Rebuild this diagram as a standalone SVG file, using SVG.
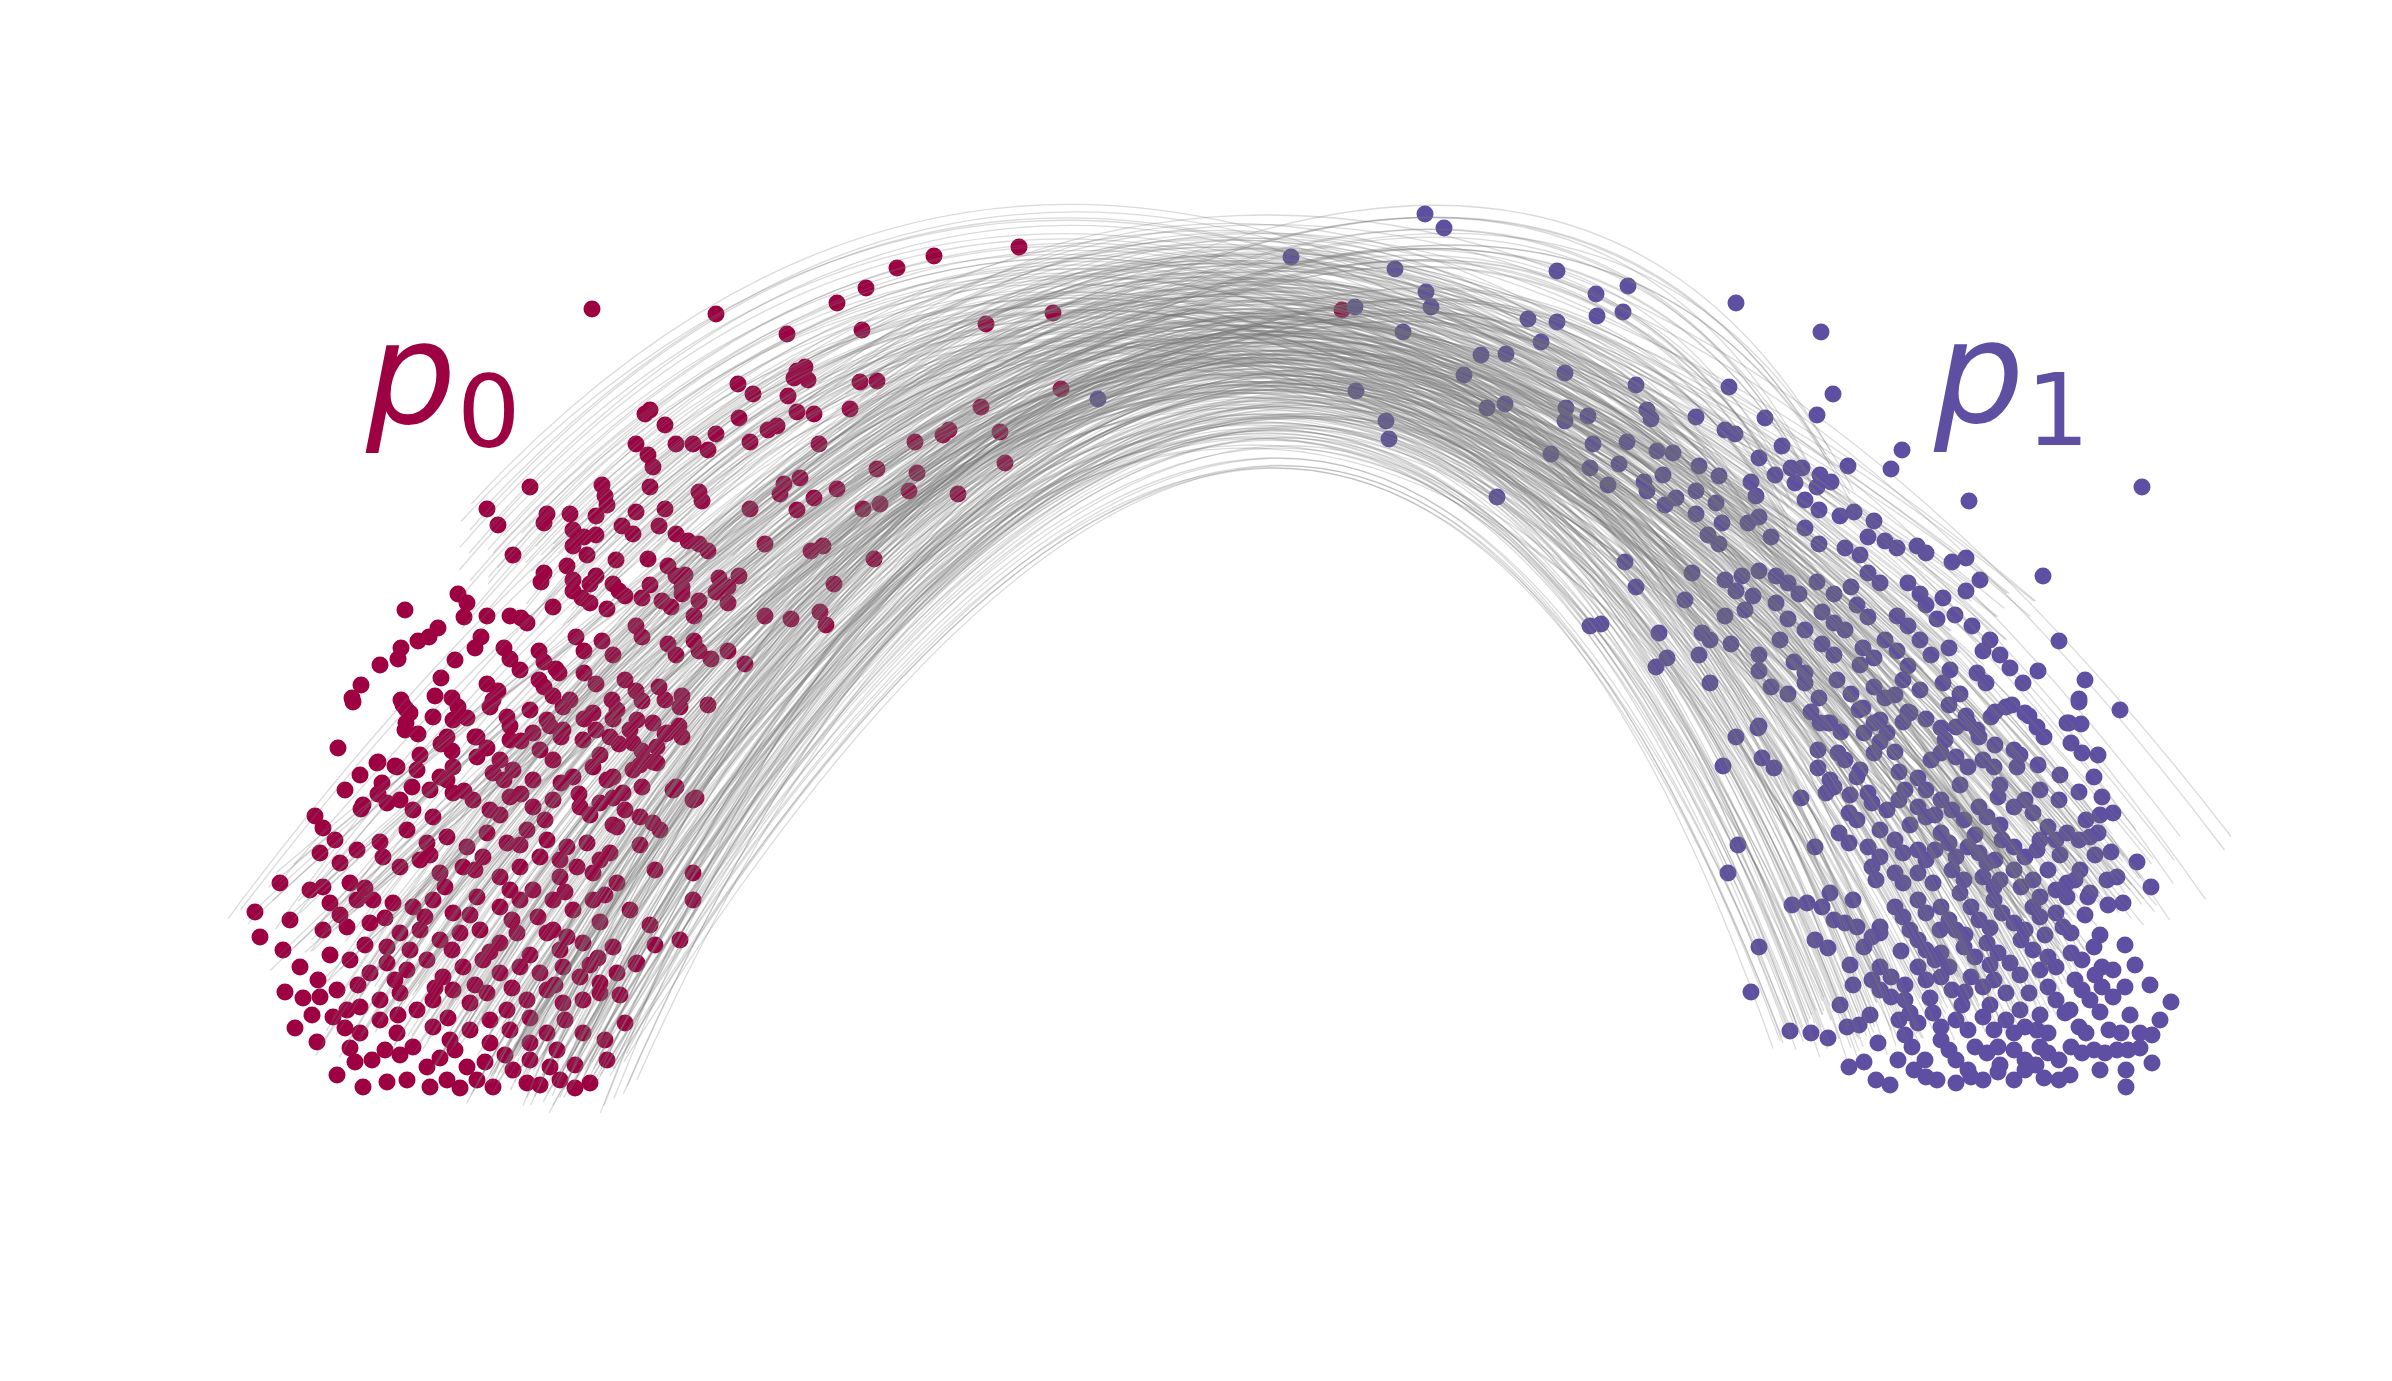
<svg xmlns="http://www.w3.org/2000/svg" xmlns:xlink="http://www.w3.org/1999/xlink" width="2392" height="1381" viewBox="0 0 2392 1381">
<style>
.r circle{fill:#9e0142}
.b circle{fill:#5e4fa2}
circle{r:8.5px}
.L{fill:none;stroke:#777;stroke-opacity:.27;stroke-width:1.3}
text{font-family:"DejaVu Sans","Liberation Sans",sans-serif}
</style>
<defs>
<path id="A" vector-effect="non-scaling-stroke" d="M-970 -240Q30 -1580 975 -300"/>
<path id="B" vector-effect="non-scaling-stroke" d="M-630 -75Q107 -1289 560 -115"/>
<path id="D" vector-effect="non-scaling-stroke" d="M-800 -130Q60 -1460 760 -150"/>
<path id="E" vector-effect="non-scaling-stroke" d="M-700 -80Q-40 -1470 880 -270"/>
<path id="F" vector-effect="non-scaling-stroke" d="M-760 -620Q-88 -1390 900 -260"/>
<path id="G" vector-effect="non-scaling-stroke" d="M-975 -240Q218 -1360 600 -700"/>
<path id="H" vector-effect="non-scaling-stroke" d="M-560 -560Q-30 -1110 700 -500"/>
<path id="K" vector-effect="non-scaling-stroke" d="M-380 -700Q0 -1010 420 -680"/>
</defs>
<rect width="2392" height="1381" fill="#fff"/>
<g id="p0-dots" class="r">
<circle cx="592" cy="309"/><circle cx="716" cy="314"/><circle cx="866" cy="288"/><circle cx="837" cy="303"/><circle cx="862" cy="330"/><circle cx="787" cy="334"/><circle cx="986" cy="324"/><circle cx="1019" cy="247"/><circle cx="897" cy="268"/><circle cx="934" cy="256"/><circle cx="1053" cy="313"/><circle cx="797" cy="371"/><circle cx="805" cy="367"/><circle cx="794" cy="378"/><circle cx="808" cy="380"/><circle cx="738" cy="384"/><circle cx="753" cy="394"/><circle cx="860" cy="382"/><circle cx="877" cy="381"/><circle cx="788" cy="396"/><circle cx="850" cy="409"/><circle cx="650" cy="410"/><circle cx="645" cy="414"/><circle cx="665" cy="425"/><circle cx="797" cy="412"/><circle cx="814" cy="414"/><circle cx="739" cy="418"/><circle cx="777" cy="426"/><circle cx="768" cy="430"/><circle cx="1061" cy="389"/><circle cx="981" cy="407"/><circle cx="1342" cy="310"/><circle cx="1000" cy="432"/><circle cx="1005" cy="463"/>
<circle cx="716" cy="434"/><circle cx="693" cy="444"/><circle cx="676" cy="444"/><circle cx="708" cy="450"/><circle cx="949" cy="430"/><circle cx="943" cy="435"/><circle cx="915" cy="442"/><circle cx="636" cy="444"/><circle cx="648" cy="455"/><circle cx="653" cy="467"/><circle cx="819" cy="444"/><circle cx="750" cy="442"/><circle cx="877" cy="469"/><circle cx="917" cy="473"/><circle cx="530" cy="487"/><circle cx="602" cy="485"/><circle cx="605" cy="496"/><circle cx="607" cy="505"/><circle cx="650" cy="487"/><circle cx="699" cy="492"/><circle cx="702" cy="501"/><circle cx="784" cy="484"/><circle cx="800" cy="478"/><circle cx="780" cy="494"/><circle cx="814" cy="498"/><circle cx="837" cy="489"/><circle cx="909" cy="491"/><circle cx="958" cy="494"/><circle cx="863" cy="509"/><circle cx="880" cy="504"/><circle cx="750" cy="509"/><circle cx="797" cy="510"/><circle cx="487" cy="509"/><circle cx="498" cy="525"/><circle cx="547" cy="514"/><circle cx="544" cy="523"/><circle cx="570" cy="514"/><circle cx="596" cy="516"/><circle cx="636" cy="512"/><circle cx="665" cy="509"/><circle cx="573" cy="530"/><circle cx="584" cy="537"/><circle cx="596" cy="535"/><circle cx="622" cy="526"/><circle cx="633" cy="534"/><circle cx="659" cy="526"/><circle cx="676" cy="534"/><circle cx="688" cy="541"/><circle cx="699" cy="544"/><circle cx="708" cy="551"/><circle cx="513" cy="555"/><circle cx="573" cy="546"/><circle cx="587" cy="555"/><circle cx="616" cy="560"/><circle cx="648" cy="559"/><circle cx="668" cy="566"/><circle cx="676" cy="576"/><circle cx="765" cy="544"/><circle cx="811" cy="551"/><circle cx="823" cy="546"/><circle cx="874" cy="559"/><circle cx="544" cy="573"/><circle cx="541" cy="582"/><circle cx="567" cy="566"/><circle cx="573" cy="580"/><circle cx="590" cy="584"/><circle cx="596" cy="576"/><circle cx="613" cy="584"/><circle cx="650" cy="585"/><circle cx="685" cy="575"/><circle cx="682" cy="587"/><circle cx="719" cy="578"/><circle cx="728" cy="587"/><circle cx="739" cy="576"/><circle cx="834" cy="584"/>
<circle cx="458" cy="594"/><circle cx="467" cy="603"/><circle cx="405" cy="610"/><circle cx="487" cy="616"/><circle cx="510" cy="616"/><circle cx="521" cy="618"/><circle cx="527" cy="623"/><circle cx="553" cy="607"/><circle cx="573" cy="591"/><circle cx="464" cy="617"/><circle cx="582" cy="598"/><circle cx="590" cy="603"/><circle cx="607" cy="609"/><circle cx="619" cy="591"/><circle cx="625" cy="596"/><circle cx="642" cy="598"/><circle cx="662" cy="601"/><circle cx="671" cy="607"/><circle cx="682" cy="594"/><circle cx="699" cy="601"/><circle cx="694" cy="616"/><circle cx="716" cy="592"/><circle cx="728" cy="603"/><circle cx="765" cy="616"/><circle cx="791" cy="619"/><circle cx="820" cy="612"/><circle cx="826" cy="625"/>
<circle cx="438" cy="628"/><circle cx="429" cy="637"/><circle cx="418" cy="641"/><circle cx="401" cy="648"/><circle cx="398" cy="659"/><circle cx="481" cy="637"/><circle cx="475" cy="648"/><circle cx="504" cy="648"/><circle cx="510" cy="659"/><circle cx="539" cy="651"/><circle cx="544" cy="662"/><circle cx="556" cy="669"/><circle cx="559" cy="673"/><circle cx="576" cy="637"/><circle cx="584" cy="651"/><circle cx="602" cy="641"/><circle cx="613" cy="655"/><circle cx="636" cy="626"/><circle cx="642" cy="637"/><circle cx="668" cy="644"/><circle cx="676" cy="655"/><circle cx="694" cy="641"/><circle cx="699" cy="651"/><circle cx="711" cy="659"/><circle cx="728" cy="651"/><circle cx="745" cy="664"/><circle cx="441" cy="678"/><circle cx="361" cy="685"/><circle cx="352" cy="698"/><circle cx="401" cy="700"/><circle cx="406" cy="709"/><circle cx="452" cy="698"/><circle cx="458" cy="707"/><circle cx="435" cy="696"/><circle cx="487" cy="684"/><circle cx="498" cy="691"/><circle cx="493" cy="700"/><circle cx="539" cy="680"/><circle cx="544" cy="687"/><circle cx="553" cy="696"/><circle cx="584" cy="673"/><circle cx="596" cy="684"/><circle cx="625" cy="680"/><circle cx="636" cy="691"/><circle cx="642" cy="701"/><circle cx="659" cy="687"/><circle cx="665" cy="700"/><circle cx="682" cy="696"/><circle cx="708" cy="705"/><circle cx="380" cy="665"/><circle cx="455" cy="660"/><circle cx="520" cy="670"/><circle cx="570" cy="700"/><circle cx="612" cy="700"/>
<circle cx="338" cy="748"/><circle cx="378" cy="762"/><circle cx="395" cy="766"/><circle cx="441" cy="744"/><circle cx="452" cy="751"/><circle cx="406" cy="723"/><circle cx="418" cy="734"/><circle cx="475" cy="737"/><circle cx="487" cy="748"/><circle cx="510" cy="726"/><circle cx="521" cy="741"/><circle cx="550" cy="726"/><circle cx="561" cy="737"/><circle cx="584" cy="719"/><circle cx="596" cy="730"/><circle cx="613" cy="719"/><circle cx="630" cy="730"/><circle cx="653" cy="723"/><circle cx="665" cy="734"/><circle cx="679" cy="726"/><circle cx="682" cy="737"/><circle cx="619" cy="744"/><circle cx="642" cy="751"/><circle cx="653" cy="762"/><circle cx="676" cy="787"/><circle cx="696" cy="798"/><circle cx="315" cy="816"/><circle cx="323" cy="828"/><circle cx="361" cy="809"/><circle cx="378" cy="794"/><circle cx="412" cy="787"/><circle cx="447" cy="780"/><circle cx="464" cy="791"/><circle cx="504" cy="780"/><circle cx="521" cy="794"/><circle cx="561" cy="783"/><circle cx="579" cy="794"/><circle cx="607" cy="780"/><circle cx="613" cy="798"/><circle cx="642" cy="787"/><circle cx="653" cy="823"/><circle cx="613" cy="825"/>
<circle cx="353" cy="702"/><circle cx="403" cy="705"/><circle cx="410" cy="713"/><circle cx="433" cy="717"/><circle cx="453" cy="720"/><circle cx="467" cy="718"/><circle cx="490" cy="707"/><circle cx="507" cy="717"/><circle cx="530" cy="710"/><circle cx="547" cy="720"/><circle cx="563" cy="707"/><circle cx="593" cy="713"/><circle cx="617" cy="710"/><circle cx="637" cy="720"/><circle cx="680" cy="707"/>
<circle cx="405" cy="730"/><circle cx="447" cy="737"/><circle cx="477" cy="737"/><circle cx="510" cy="740"/><circle cx="533" cy="733"/><circle cx="563" cy="730"/><circle cx="583" cy="740"/><circle cx="610" cy="737"/><circle cx="633" cy="743"/><circle cx="667" cy="733"/><circle cx="657" cy="747"/>
<circle cx="377" cy="763"/><circle cx="397" cy="767"/><circle cx="417" cy="770"/><circle cx="440" cy="777"/><circle cx="453" cy="767"/><circle cx="477" cy="757"/><circle cx="493" cy="773"/><circle cx="513" cy="770"/><circle cx="533" cy="780"/><circle cx="553" cy="760"/><circle cx="573" cy="777"/><circle cx="593" cy="767"/><circle cx="613" cy="777"/><circle cx="633" cy="770"/><circle cx="657" cy="763"/><circle cx="673" cy="790"/><circle cx="382" cy="783"/><circle cx="360" cy="775"/><circle cx="420" cy="755"/><circle cx="500" cy="760"/><circle cx="540" cy="750"/><circle cx="600" cy="755"/><circle cx="640" cy="765"/>
<circle cx="363" cy="805"/><circle cx="387" cy="803"/><circle cx="413" cy="810"/><circle cx="433" cy="817"/><circle cx="453" cy="793"/><circle cx="473" cy="800"/><circle cx="490" cy="810"/><circle cx="510" cy="797"/><circle cx="533" cy="807"/><circle cx="553" cy="800"/><circle cx="580" cy="807"/><circle cx="600" cy="803"/><circle cx="623" cy="793"/><circle cx="640" cy="817"/><circle cx="660" cy="830"/><circle cx="693" cy="800"/><circle cx="345" cy="790"/><circle cx="400" cy="800"/><circle cx="430" cy="790"/><circle cx="500" cy="815"/><circle cx="545" cy="820"/><circle cx="590" cy="815"/><circle cx="625" cy="810"/>
<circle cx="407" cy="830"/><circle cx="427" cy="843"/><circle cx="447" cy="837"/><circle cx="467" cy="847"/><circle cx="487" cy="833"/><circle cx="507" cy="843"/><circle cx="527" cy="830"/><circle cx="547" cy="840"/><circle cx="567" cy="847"/><circle cx="587" cy="843"/><circle cx="617" cy="827"/><circle cx="610" cy="853"/><circle cx="357" cy="850"/><circle cx="320" cy="853"/><circle cx="335" cy="840"/><circle cx="380" cy="842"/><circle cx="430" cy="855"/><circle cx="475" cy="870"/><circle cx="520" cy="845"/><circle cx="560" cy="860"/><circle cx="600" cy="860"/><circle cx="640" cy="845"/><circle cx="655" cy="870"/>
<circle cx="340" cy="863"/><circle cx="383" cy="857"/><circle cx="400" cy="867"/><circle cx="420" cy="860"/><circle cx="440" cy="873"/><circle cx="463" cy="867"/><circle cx="483" cy="857"/><circle cx="500" cy="877"/><circle cx="520" cy="867"/><circle cx="540" cy="857"/><circle cx="560" cy="877"/><circle cx="577" cy="867"/><circle cx="593" cy="873"/><circle cx="617" cy="883"/><circle cx="693" cy="873"/><circle cx="280" cy="883"/><circle cx="323" cy="887"/><circle cx="350" cy="883"/><circle cx="310" cy="890"/><circle cx="365" cy="888"/><circle cx="445" cy="887"/><circle cx="510" cy="890"/><circle cx="565" cy="892"/><circle cx="605" cy="895"/>
<circle cx="330" cy="903"/><circle cx="357" cy="900"/><circle cx="373" cy="900"/><circle cx="393" cy="903"/><circle cx="413" cy="907"/><circle cx="433" cy="900"/><circle cx="453" cy="913"/><circle cx="477" cy="897"/><circle cx="500" cy="907"/><circle cx="520" cy="900"/><circle cx="533" cy="890"/><circle cx="553" cy="900"/><circle cx="573" cy="910"/><circle cx="593" cy="900"/><circle cx="630" cy="910"/><circle cx="693" cy="900"/><circle cx="255" cy="912"/><circle cx="290" cy="920"/><circle cx="340" cy="915"/><circle cx="385" cy="918"/><circle cx="425" cy="917"/><circle cx="470" cy="915"/><circle cx="512" cy="920"/><circle cx="538" cy="917"/><circle cx="600" cy="922"/><circle cx="650" cy="925"/>
<circle cx="260" cy="937"/><circle cx="323" cy="930"/><circle cx="347" cy="927"/><circle cx="370" cy="923"/><circle cx="400" cy="933"/><circle cx="420" cy="930"/><circle cx="440" cy="940"/><circle cx="460" cy="933"/><circle cx="480" cy="930"/><circle cx="500" cy="943"/><circle cx="517" cy="933"/><circle cx="547" cy="933"/><circle cx="567" cy="937"/><circle cx="583" cy="943"/><circle cx="613" cy="947"/><circle cx="680" cy="940"/><circle cx="387" cy="947"/><circle cx="553" cy="930"/><circle cx="636" cy="964"/><circle cx="283" cy="950"/><circle cx="330" cy="955"/><circle cx="365" cy="945"/><circle cx="410" cy="950"/><circle cx="452" cy="950"/><circle cx="490" cy="952"/><circle cx="530" cy="955"/><circle cx="560" cy="950"/><circle cx="598" cy="958"/><circle cx="655" cy="945"/>
<circle cx="300" cy="967"/><circle cx="350" cy="960"/><circle cx="370" cy="973"/><circle cx="387" cy="963"/><circle cx="407" cy="970"/><circle cx="427" cy="960"/><circle cx="443" cy="977"/><circle cx="463" cy="967"/><circle cx="483" cy="960"/><circle cx="500" cy="973"/><circle cx="520" cy="967"/><circle cx="540" cy="973"/><circle cx="563" cy="967"/><circle cx="580" cy="977"/><circle cx="600" cy="983"/><circle cx="617" cy="973"/><circle cx="637" cy="963"/><circle cx="318" cy="980"/><circle cx="358" cy="985"/><circle cx="395" cy="980"/><circle cx="435" cy="988"/><circle cx="475" cy="985"/><circle cx="512" cy="988"/><circle cx="555" cy="985"/><circle cx="590" cy="965"/><circle cx="620" cy="995"/>
<circle cx="285" cy="992"/><circle cx="303" cy="998"/><circle cx="320" cy="997"/><circle cx="337" cy="990"/><circle cx="347" cy="1010"/><circle cx="312" cy="1015"/><circle cx="333" cy="1017"/><circle cx="360" cy="1007"/><circle cx="380" cy="1000"/><circle cx="400" cy="993"/><circle cx="417" cy="1010"/><circle cx="433" cy="1000"/><circle cx="453" cy="990"/><circle cx="470" cy="1003"/><circle cx="487" cy="993"/><circle cx="507" cy="1010"/><circle cx="527" cy="1000"/><circle cx="547" cy="990"/><circle cx="563" cy="1003"/><circle cx="583" cy="1000"/><circle cx="600" cy="993"/><circle cx="625" cy="1023"/><circle cx="295" cy="1028"/><circle cx="345" cy="1028"/><circle cx="398" cy="1015"/><circle cx="448" cy="1018"/><circle cx="490" cy="1020"/><circle cx="530" cy="1018"/><circle cx="565" cy="1020"/><circle cx="605" cy="1040"/>
<circle cx="317" cy="1042"/><circle cx="350" cy="1048"/><circle cx="360" cy="1033"/><circle cx="380" cy="1020"/><circle cx="397" cy="1033"/><circle cx="413" cy="1047"/><circle cx="433" cy="1027"/><circle cx="450" cy="1040"/><circle cx="470" cy="1030"/><circle cx="490" cy="1043"/><circle cx="510" cy="1030"/><circle cx="530" cy="1043"/><circle cx="547" cy="1033"/><circle cx="557" cy="1050"/><circle cx="583" cy="1033"/><circle cx="400" cy="1055"/><circle cx="440" cy="1058"/><circle cx="505" cy="1055"/><circle cx="355" cy="1062"/><circle cx="385" cy="1050"/><circle cx="455" cy="1050"/><circle cx="485" cy="1062"/><circle cx="530" cy="1060"/><circle cx="575" cy="1065"/>
<circle cx="337" cy="1075"/><circle cx="363" cy="1087"/><circle cx="372" cy="1060"/><circle cx="387" cy="1082"/><circle cx="407" cy="1080"/><circle cx="427" cy="1067"/><circle cx="430" cy="1087"/><circle cx="447" cy="1080"/><circle cx="467" cy="1067"/><circle cx="477" cy="1080"/><circle cx="493" cy="1087"/><circle cx="513" cy="1070"/><circle cx="527" cy="1083"/><circle cx="550" cy="1067"/><circle cx="560" cy="1080"/><circle cx="590" cy="1083"/><circle cx="607" cy="1060"/><circle cx="540" cy="1085"/><circle cx="460" cy="1088"/><circle cx="575" cy="1088"/>
</g>
<g id="p1-dots" class="b">
<circle cx="1098" cy="399"/><circle cx="1291" cy="257"/><circle cx="1425" cy="214"/><circle cx="1444" cy="228"/><circle cx="1395" cy="269"/><circle cx="1426" cy="292"/><circle cx="1431" cy="307"/><circle cx="1557" cy="271"/><circle cx="1596" cy="294"/><circle cx="1628" cy="286"/><circle cx="1597" cy="316"/><circle cx="1623" cy="312"/><circle cx="1736" cy="303"/><circle cx="1821" cy="332"/><circle cx="1355" cy="307"/><circle cx="1403" cy="332"/><circle cx="1528" cy="319"/><circle cx="1557" cy="322"/><circle cx="1541" cy="342"/><circle cx="1481" cy="355"/><circle cx="1506" cy="354"/><circle cx="1464" cy="375"/><circle cx="1565" cy="373"/><circle cx="1636" cy="385"/><circle cx="1729" cy="387"/><circle cx="1833" cy="394"/><circle cx="1356" cy="391"/><circle cx="1487" cy="408"/><circle cx="1505" cy="404"/><circle cx="1566" cy="408"/><circle cx="1565" cy="421"/><circle cx="1588" cy="416"/><circle cx="1647" cy="410"/><circle cx="1651" cy="419"/><circle cx="1696" cy="417"/><circle cx="1725" cy="430"/><circle cx="1735" cy="434"/><circle cx="1765" cy="418"/><circle cx="1817" cy="415"/><circle cx="1386" cy="421"/><circle cx="1389" cy="439"/>
<circle cx="1551" cy="454"/><circle cx="1593" cy="444"/><circle cx="1627" cy="442"/><circle cx="1657" cy="451"/><circle cx="1673" cy="453"/><circle cx="1619" cy="464"/><circle cx="1590" cy="468"/><circle cx="1608" cy="485"/><circle cx="1644" cy="482"/><circle cx="1647" cy="491"/><circle cx="1663" cy="475"/><circle cx="1699" cy="466"/><circle cx="1719" cy="476"/><circle cx="1696" cy="491"/><circle cx="1751" cy="482"/><circle cx="1756" cy="496"/><circle cx="1759" cy="458"/><circle cx="1782" cy="446"/><circle cx="1775" cy="475"/><circle cx="1791" cy="468"/><circle cx="1802" cy="468"/><circle cx="1795" cy="483"/><circle cx="1820" cy="475"/><circle cx="1831" cy="482"/><circle cx="1817" cy="487"/><circle cx="1848" cy="466"/><circle cx="1891" cy="469"/><circle cx="1902" cy="450"/><circle cx="1969" cy="501"/><circle cx="2142" cy="487"/><circle cx="1497" cy="497"/>
<circle cx="1665" cy="505"/><circle cx="1676" cy="498"/><circle cx="1696" cy="514"/><circle cx="1716" cy="503"/><circle cx="1722" cy="523"/><circle cx="1805" cy="500"/><circle cx="1819" cy="510"/><circle cx="1840" cy="516"/><circle cx="1854" cy="512"/><circle cx="1874" cy="521"/><circle cx="1868" cy="537"/><circle cx="1748" cy="523"/><circle cx="1759" cy="517"/><circle cx="1708" cy="535"/><circle cx="1719" cy="544"/><circle cx="1771" cy="537"/><circle cx="1805" cy="528"/><circle cx="1819" cy="544"/><circle cx="1845" cy="548"/><circle cx="1860" cy="555"/><circle cx="1885" cy="541"/><circle cx="1897" cy="548"/><circle cx="1917" cy="546"/><circle cx="1926" cy="553"/><circle cx="1952" cy="562"/><circle cx="1966" cy="558"/><circle cx="1980" cy="580"/><circle cx="2043" cy="576"/><circle cx="1625" cy="562"/><circle cx="1636" cy="587"/><circle cx="1692" cy="573"/><circle cx="1725" cy="580"/><circle cx="1742" cy="576"/><circle cx="1759" cy="571"/><circle cx="1776" cy="576"/><circle cx="1736" cy="591"/><circle cx="1753" cy="596"/><circle cx="1788" cy="583"/><circle cx="1799" cy="594"/><circle cx="1817" cy="582"/><circle cx="1834" cy="594"/><circle cx="1851" cy="587"/><circle cx="1868" cy="573"/><circle cx="1880" cy="583"/><circle cx="1908" cy="583"/><circle cx="1920" cy="594"/><circle cx="1943" cy="598"/><circle cx="1966" cy="591"/>
<circle cx="1685" cy="600"/><circle cx="1725" cy="616"/><circle cx="1776" cy="603"/><circle cx="1788" cy="619"/><circle cx="1805" cy="630"/><circle cx="1822" cy="612"/><circle cx="1834" cy="623"/><circle cx="1857" cy="605"/><circle cx="1868" cy="617"/><circle cx="1897" cy="616"/><circle cx="1908" cy="626"/><circle cx="1926" cy="605"/><circle cx="1937" cy="619"/><circle cx="1972" cy="626"/><circle cx="1590" cy="626"/><circle cx="1601" cy="624"/><circle cx="1659" cy="633"/><circle cx="1702" cy="633"/><circle cx="1710" cy="640"/><circle cx="1731" cy="644"/><circle cx="1667" cy="658"/><circle cx="1656" cy="667"/><circle cx="1699" cy="655"/><circle cx="1759" cy="655"/><circle cx="1759" cy="671"/><circle cx="1794" cy="662"/><circle cx="1805" cy="673"/><circle cx="1822" cy="644"/><circle cx="1834" cy="655"/><circle cx="1863" cy="648"/><circle cx="1874" cy="658"/><circle cx="1897" cy="651"/><circle cx="1908" cy="666"/><circle cx="1931" cy="655"/><circle cx="1949" cy="648"/><circle cx="1983" cy="651"/><circle cx="2000" cy="655"/><circle cx="2059" cy="641"/><circle cx="1845" cy="630"/><circle cx="1885" cy="640"/><circle cx="1920" cy="640"/><circle cx="1955" cy="615"/><circle cx="1990" cy="640"/><circle cx="2010" cy="668"/><circle cx="1950" cy="670"/><circle cx="1895" cy="695"/><circle cx="1860" cy="665"/><circle cx="1780" cy="640"/><circle cx="1745" cy="610"/>
<circle cx="1710" cy="683"/><circle cx="1771" cy="687"/><circle cx="1788" cy="694"/><circle cx="1805" cy="683"/><circle cx="1819" cy="698"/><circle cx="1837" cy="680"/><circle cx="1851" cy="694"/><circle cx="1874" cy="687"/><circle cx="1885" cy="698"/><circle cx="1903" cy="680"/><circle cx="1920" cy="690"/><circle cx="1943" cy="683"/><circle cx="1960" cy="694"/><circle cx="1977" cy="673"/><circle cx="1986" cy="683"/><circle cx="2023" cy="683"/><circle cx="2038" cy="671"/><circle cx="2085" cy="680"/><circle cx="2079" cy="699"/><circle cx="2120" cy="710"/><circle cx="2069" cy="723"/><circle cx="2081" cy="724"/><circle cx="1759" cy="726"/><circle cx="1736" cy="737"/><circle cx="1811" cy="712"/><circle cx="1828" cy="723"/><circle cx="1863" cy="708"/><circle cx="1874" cy="723"/><circle cx="1908" cy="712"/><circle cx="1926" cy="719"/><circle cx="1949" cy="705"/><circle cx="1966" cy="716"/><circle cx="1995" cy="712"/><circle cx="2012" cy="705"/><circle cx="2029" cy="716"/><circle cx="1977" cy="730"/>
<circle cx="2079" cy="702"/><circle cx="1758" cy="728"/><circle cx="1723" cy="766"/><circle cx="1762" cy="758"/><circle cx="1774" cy="768"/><circle cx="1820" cy="723"/><circle cx="1830" cy="723"/><circle cx="1841" cy="732"/><circle cx="1859" cy="710"/><circle cx="1864" cy="733"/><circle cx="1880" cy="720"/><circle cx="1887" cy="733"/><circle cx="1903" cy="722"/><circle cx="1910" cy="713"/><circle cx="1941" cy="728"/><circle cx="1956" cy="727"/><circle cx="1968" cy="723"/><circle cx="1979" cy="737"/><circle cx="1991" cy="717"/><circle cx="2006" cy="707"/><circle cx="2025" cy="713"/><circle cx="2037" cy="727"/><circle cx="2044" cy="737"/><circle cx="2067" cy="723"/><circle cx="2071" cy="743"/><circle cx="2082" cy="753"/><circle cx="2098" cy="755"/>
<circle cx="1818" cy="750"/><circle cx="1838" cy="753"/><circle cx="1818" cy="768"/><circle cx="1830" cy="780"/><circle cx="1845" cy="760"/><circle cx="1857" cy="777"/><circle cx="1874" cy="753"/><circle cx="1880" cy="742"/><circle cx="1899" cy="772"/><circle cx="1918" cy="778"/><circle cx="1926" cy="790"/><circle cx="1931" cy="760"/><circle cx="1941" cy="753"/><circle cx="1956" cy="757"/><circle cx="1968" cy="767"/><circle cx="1983" cy="760"/><circle cx="1994" cy="767"/><circle cx="2014" cy="750"/><circle cx="2017" cy="767"/><circle cx="2038" cy="765"/><circle cx="2094" cy="777"/><circle cx="2059" cy="800"/><circle cx="2079" cy="792"/><circle cx="2102" cy="797"/><circle cx="2113" cy="813"/><circle cx="2086" cy="820"/><circle cx="2098" cy="833"/><circle cx="1850" cy="795"/><circle cx="1905" cy="790"/><circle cx="1960" cy="785"/><circle cx="2000" cy="785"/><circle cx="2040" cy="790"/><circle cx="2060" cy="775"/><circle cx="1945" cy="740"/><circle cx="1995" cy="745"/><circle cx="2020" cy="755"/><circle cx="2100" cy="815"/><circle cx="1895" cy="752"/><circle cx="1860" cy="770"/>
<circle cx="1801" cy="798"/><circle cx="1826" cy="793"/><circle cx="1834" cy="787"/><circle cx="1849" cy="813"/><circle cx="1857" cy="820"/><circle cx="1868" cy="793"/><circle cx="1872" cy="803"/><circle cx="1887" cy="810"/><circle cx="1899" cy="800"/><circle cx="1918" cy="807"/><circle cx="1926" cy="817"/><circle cx="1941" cy="800"/><circle cx="1952" cy="810"/><circle cx="1964" cy="820"/><circle cx="1979" cy="807"/><circle cx="1987" cy="817"/><circle cx="1998" cy="797"/><circle cx="2014" cy="807"/><circle cx="2025" cy="800"/><circle cx="2033" cy="813"/><circle cx="2048" cy="827"/><circle cx="2056" cy="840"/><circle cx="2067" cy="833"/><circle cx="2079" cy="840"/><circle cx="2090" cy="837"/><circle cx="1880" cy="830"/><circle cx="1910" cy="825"/><circle cx="1935" cy="815"/><circle cx="1975" cy="835"/><circle cx="2000" cy="825"/><circle cx="2040" cy="840"/><circle cx="2060" cy="855"/><circle cx="2095" cy="855"/><circle cx="1995" cy="860"/><circle cx="1935" cy="850"/>
<circle cx="1738" cy="845"/><circle cx="1728" cy="873"/><circle cx="1815" cy="847"/><circle cx="1839" cy="833"/><circle cx="1849" cy="843"/><circle cx="1868" cy="847"/><circle cx="1880" cy="857"/><circle cx="1895" cy="840"/><circle cx="1903" cy="853"/><circle cx="1918" cy="850"/><circle cx="1926" cy="860"/><circle cx="1941" cy="833"/><circle cx="1949" cy="843"/><circle cx="1956" cy="857"/><circle cx="1968" cy="847"/><circle cx="1979" cy="853"/><circle cx="1987" cy="863"/><circle cx="2002" cy="840"/><circle cx="2014" cy="847"/><circle cx="2025" cy="857"/><circle cx="2037" cy="850"/><circle cx="2048" cy="870"/><circle cx="2067" cy="883"/><circle cx="2075" cy="880"/><circle cx="2111" cy="852"/><circle cx="2137" cy="862"/><circle cx="2107" cy="880"/><circle cx="2117" cy="877"/><circle cx="2151" cy="887"/><circle cx="2088" cy="897"/><circle cx="2090" cy="893"/><circle cx="2123" cy="903"/>
<circle cx="1872" cy="867"/><circle cx="1876" cy="880"/><circle cx="1895" cy="873"/><circle cx="1903" cy="883"/><circle cx="1918" cy="873"/><circle cx="1933" cy="883"/><circle cx="1952" cy="870"/><circle cx="1964" cy="880"/><circle cx="1983" cy="877"/><circle cx="1994" cy="887"/><circle cx="2014" cy="870"/><circle cx="2021" cy="887"/><circle cx="2033" cy="880"/><circle cx="2056" cy="890"/><circle cx="2067" cy="897"/><circle cx="1792" cy="905"/><circle cx="1807" cy="903"/><circle cx="1822" cy="907"/><circle cx="1830" cy="893"/><circle cx="1853" cy="900"/><circle cx="1834" cy="920"/><circle cx="1845" cy="923"/><circle cx="1857" cy="927"/><circle cx="1880" cy="927"/><circle cx="1880" cy="933"/><circle cx="1872" cy="937"/><circle cx="1864" cy="947"/><circle cx="1895" cy="907"/><circle cx="1903" cy="917"/><circle cx="1918" cy="900"/><circle cx="1926" cy="913"/><circle cx="1941" cy="907"/><circle cx="1949" cy="920"/><circle cx="1956" cy="930"/><circle cx="1971" cy="907"/><circle cx="1979" cy="920"/><circle cx="1994" cy="900"/><circle cx="2002" cy="913"/><circle cx="2014" cy="923"/><circle cx="2033" cy="907"/><circle cx="2040" cy="917"/><circle cx="2056" cy="913"/><circle cx="2063" cy="927"/><circle cx="2071" cy="933"/><circle cx="1940" cy="930"/><circle cx="1965" cy="935"/><circle cx="1990" cy="928"/><circle cx="2025" cy="930"/><circle cx="2045" cy="935"/><circle cx="2085" cy="915"/><circle cx="2100" cy="935"/><circle cx="2125" cy="945"/><circle cx="1910" cy="930"/><circle cx="1960" cy="893"/><circle cx="2000" cy="880"/><circle cx="2040" cy="897"/><circle cx="2080" cy="870"/><circle cx="2108" cy="905"/>
<circle cx="1759" cy="947"/><circle cx="1815" cy="940"/><circle cx="1828" cy="948"/><circle cx="1901" cy="951"/><circle cx="1918" cy="940"/><circle cx="1926" cy="950"/><circle cx="1941" cy="953"/><circle cx="1949" cy="967"/><circle cx="1964" cy="947"/><circle cx="1975" cy="957"/><circle cx="1987" cy="943"/><circle cx="1998" cy="953"/><circle cx="2010" cy="963"/><circle cx="2021" cy="940"/><circle cx="2033" cy="950"/><circle cx="2048" cy="957"/><circle cx="2056" cy="967"/><circle cx="2071" cy="953"/><circle cx="2082" cy="960"/><circle cx="2094" cy="947"/><circle cx="2102" cy="967"/><circle cx="2113" cy="970"/><circle cx="1905" cy="985"/><circle cx="1935" cy="960"/><circle cx="1965" cy="992"/><circle cx="1990" cy="965"/><circle cx="2020" cy="975"/><circle cx="2040" cy="970"/><circle cx="2075" cy="980"/><circle cx="2095" cy="975"/><circle cx="2135" cy="965"/><circle cx="2150" cy="985"/><circle cx="1850" cy="965"/>
<circle cx="1880" cy="967"/><circle cx="1891" cy="977"/><circle cx="1872" cy="980"/><circle cx="1880" cy="990"/><circle cx="1891" cy="997"/><circle cx="1853" cy="985"/><circle cx="1751" cy="992"/><circle cx="1918" cy="967"/><circle cx="1926" cy="980"/><circle cx="1941" cy="977"/><circle cx="1952" cy="990"/><circle cx="1971" cy="977"/><circle cx="1983" cy="987"/><circle cx="1994" cy="980"/><circle cx="2006" cy="993"/><circle cx="2029" cy="993"/><circle cx="2048" cy="987"/><circle cx="2056" cy="1000"/><circle cx="2065" cy="1013"/><circle cx="2082" cy="990"/><circle cx="2090" cy="1000"/><circle cx="2102" cy="987"/><circle cx="2113" cy="997"/><circle cx="2125" cy="987"/><circle cx="2171" cy="1002"/><circle cx="1905" cy="1000"/><circle cx="1930" cy="998"/><circle cx="1962" cy="1005"/><circle cx="1990" cy="1005"/><circle cx="2020" cy="1010"/><circle cx="2040" cy="1015"/><circle cx="2070" cy="1010"/><circle cx="2100" cy="1012"/><circle cx="2130" cy="1015"/><circle cx="2160" cy="1020"/><circle cx="1870" cy="1015"/><circle cx="1840" cy="1005"/>
<circle cx="1899" cy="1020"/><circle cx="1910" cy="1013"/><circle cx="1918" cy="1023"/><circle cx="1933" cy="1013"/><circle cx="1941" cy="1027"/><circle cx="1956" cy="1020"/><circle cx="1968" cy="1030"/><circle cx="1983" cy="1017"/><circle cx="1994" cy="1030"/><circle cx="2006" cy="1020"/><circle cx="2014" cy="1033"/><circle cx="2025" cy="1027"/><circle cx="2037" cy="1030"/><circle cx="2048" cy="1033"/><circle cx="2079" cy="1027"/><circle cx="2086" cy="1033"/><circle cx="2109" cy="1030"/><circle cx="2121" cy="1033"/><circle cx="2140" cy="1033"/><circle cx="2152" cy="1035"/><circle cx="1790" cy="1031"/><circle cx="1811" cy="1033"/><circle cx="1828" cy="1038"/><circle cx="1847" cy="1027"/><circle cx="1859" cy="1025"/><circle cx="1878" cy="1043"/><circle cx="1912" cy="1047"/>
<circle cx="1941" cy="1040"/><circle cx="1949" cy="1050"/><circle cx="1956" cy="1060"/><circle cx="1975" cy="1047"/><circle cx="1987" cy="1053"/><circle cx="1998" cy="1047"/><circle cx="2014" cy="1050"/><circle cx="2025" cy="1060"/><circle cx="2040" cy="1047"/><circle cx="2048" cy="1053"/><circle cx="2059" cy="1060"/><circle cx="2071" cy="1047"/><circle cx="2082" cy="1053"/><circle cx="2094" cy="1050"/><circle cx="2105" cy="1053"/><circle cx="2117" cy="1050"/><circle cx="2128" cy="1050"/><circle cx="2152" cy="1063"/><circle cx="1849" cy="1067"/><circle cx="1864" cy="1062"/><circle cx="1876" cy="1080"/><circle cx="1914" cy="1070"/><circle cx="1926" cy="1077"/><circle cx="1937" cy="1080"/><circle cx="1956" cy="1083"/><circle cx="1971" cy="1077"/><circle cx="1983" cy="1080"/><circle cx="2014" cy="1080"/><circle cx="2025" cy="1070"/><circle cx="2044" cy="1078"/><circle cx="2059" cy="1080"/><circle cx="2126" cy="1070"/><circle cx="2126" cy="1087"/><circle cx="2000" cy="1065"/><circle cx="1898" cy="1060"/><circle cx="1890" cy="1085"/><circle cx="1968" cy="1070"/><circle cx="1998" cy="1072"/><circle cx="2036" cy="1065"/><circle cx="2070" cy="1075"/><circle cx="2100" cy="1070"/><circle cx="2140" cy="1048"/><circle cx="1905" cy="1035"/><circle cx="1925" cy="1060"/>
</g>
<g id="connectors" class="L" transform="translate(1230 1150)">
<g id="outer">
<use href="#A" transform="rotate(0)scale(1.02 1)"/><use href="#A" transform="rotate(-1)scale(.98 .99)"/><use href="#A" transform="rotate(1.5)scale(.96 .97)"/><use href="#A" transform="rotate(-2)scale(.94 .96)"/><use href="#A" transform="rotate(.5)scale(.93 .93)"/><use href="#A" transform="rotate(2.5)scale(.9 .92)"/><use href="#A" transform="rotate(-.5)scale(.91 .9)"/><use href="#A" transform="rotate(1)scale(.88 .9)"/><use href="#A" transform="rotate(-1.5)scale(.87 .88)"/><use href="#A" transform="rotate(2)scale(.86 .87)"/><use href="#A" transform="rotate(-2.5)scale(.85 .88)"/><use href="#A" transform="rotate(0)scale(.84 .85)"/><use href="#A" transform="rotate(1.2)scale(.83 .86)"/><use href="#A" transform="rotate(-.8)scale(.82 .84)"/><use href="#A" transform="rotate(2.8)scale(.81 .83)"/><use href="#A" transform="rotate(-1.8)scale(.8 .82)"/><use href="#A" transform="rotate(.3)scale(.89 .86)"/><use href="#A" transform="rotate(-3)scale(.92 .9)"/><use href="#A" transform="rotate(3)scale(.95 .93)"/><use href="#A" transform="rotate(-.3)scale(.97 .95)"/><use href="#A" transform="rotate(.8)scale(.9 .88)"/><use href="#A" transform="rotate(-1.2)scale(.86 .9)"/><use href="#A" transform="rotate(1.8)scale(.84 .88)"/><use href="#A" transform="rotate(-2.2)scale(.88 .85)"/><use href="#A" transform="rotate(.6)scale(.94 .91)"/><use href="#A" transform="rotate(2.2)scale(.99 .96)"/><use href="#A" transform="rotate(-.6)scale(1.03 1.01)"/><use href="#A" transform="rotate(1.6)scale(.91 .94)"/>
</g>
<g id="c0">
<use href="#B" transform="rotate(0)scale(1 1)"/><use href="#B" transform="rotate(1)scale(1.02 1.03)"/><use href="#B" transform="rotate(-1)scale(1.04 1.05)"/><use href="#B" transform="rotate(2)scale(1.06 1.06)"/><use href="#B" transform="rotate(-2)scale(1.08 1.07)"/><use href="#B" transform="rotate(.5)scale(1.1 1.09)"/><use href="#B" transform="rotate(-.5)scale(1.12 1.11)"/><use href="#B" transform="rotate(1.5)scale(1.14 1.12)"/><use href="#B" transform="rotate(-1.5)scale(1.16 1.14)"/><use href="#B" transform="rotate(2.5)scale(1.18 1.16)"/><use href="#B" transform="rotate(-2.5)scale(1.2 1.18)"/><use href="#B" transform="rotate(.8)scale(1.05 1.1)"/><use href="#B" transform="rotate(-.8)scale(1.09 1.13)"/><use href="#B" transform="rotate(1.2)scale(1.13 1.17)"/><use href="#B" transform="rotate(-1.2)scale(1.17 1.2)"/><use href="#B" transform="rotate(0)scale(1.03 1.08)"/><use href="#B" transform="rotate(2.8)scale(1.11 1.08)"/><use href="#B" transform="rotate(-2.8)scale(1.07 1.04)"/><use href="#B" transform="rotate(.3)scale(1.15 1.1)"/><use href="#B" transform="rotate(-.3)scale(1.01 1.04)"/><use href="#B" transform="rotate(1.8)scale(1.22 1.2)"/><use href="#B" transform="rotate(-1.8)scale(1.19 1.22)"/><use href="#B" transform="rotate(.6)scale(.98 1)"/><use href="#B" transform="rotate(-.6)scale(1.06 1.12)"/><use href="#B" transform="rotate(1)scale(1.12 1.06)"/><use href="#B" transform="rotate(-1)scale(1.16 1.18)"/>
<use href="#D" transform="rotate(0)scale(1 1)"/><use href="#D" transform="rotate(1)scale(.98 1.01)"/><use href="#D" transform="rotate(-1)scale(1.02 .99)"/><use href="#D" transform="rotate(2)scale(.96 .97)"/><use href="#D" transform="rotate(-2)scale(1.04 1.03)"/><use href="#D" transform="rotate(.5)scale(.94 .95)"/><use href="#D" transform="rotate(-.5)scale(1.06 1.05)"/><use href="#D" transform="rotate(1.5)scale(.92 .93)"/><use href="#D" transform="rotate(-1.5)scale(1.08 1.07)"/><use href="#D" transform="rotate(2.5)scale(.9 .91)"/><use href="#D" transform="rotate(-2.5)scale(1.1 1.09)"/><use href="#D" transform="rotate(.8)scale(.88 .92)"/><use href="#D" transform="rotate(-.8)scale(1.12 1.1)"/><use href="#D" transform="rotate(1.2)scale(.97 1.03)"/><use href="#D" transform="rotate(-1.2)scale(1.01 .96)"/><use href="#D" transform="rotate(2.8)scale(1.03 1.06)"/><use href="#D" transform="rotate(-2.8)scale(.99 .94)"/><use href="#D" transform="rotate(.3)scale(1.05 .98)"/><use href="#D" transform="rotate(-.3)scale(.95 1.02)"/><use href="#D" transform="rotate(1.8)scale(1.07 1.04)"/><use href="#D" transform="rotate(-1.8)scale(.93 .98)"/><use href="#D" transform="rotate(.6)scale(1.09 1.12)"/><use href="#D" transform="rotate(-.6)scale(.91 .96)"/><use href="#D" transform="rotate(2.2)scale(1 1.05)"/><use href="#D" transform="rotate(-2.2)scale(1.13 1.08)"/><use href="#D" transform="rotate(.1)scale(.97 .97)"/><use href="#D" transform="rotate(1.4)scale(1.04 1)"/><use href="#D" transform="rotate(-1.4)scale(.96 1.04)"/><use href="#D" transform="rotate(.9)scale(1.11 1.14)"/><use href="#D" transform="rotate(-.9)scale(.89 .89)"/><use href="#D" transform="rotate(1.7)scale(1.02 1.09)"/><use href="#D" transform="rotate(-2.6)scale(.98 1)"/><use href="#D" transform="rotate(.4)scale(1.06 1.01)"/><use href="#D" transform="rotate(-.2)scale(.94 .99)"/><use href="#D" transform="rotate(2.1)scale(1.08 1.1)"/><use href="#D" transform="rotate(-1.1)scale(1 .97)"/>
<use href="#E" transform="rotate(0)scale(1 1)"/><use href="#E" transform="rotate(1)scale(.97 .98)"/><use href="#E" transform="rotate(-1)scale(1.02 1.01)"/><use href="#E" transform="rotate(2)scale(.94 .96)"/><use href="#E" transform="rotate(-2)scale(.99 .97)"/><use href="#E" transform="rotate(.5)scale(.91 .94)"/><use href="#E" transform="rotate(-.5)scale(1.05 1.03)"/><use href="#E" transform="rotate(1.5)scale(.88 .92)"/><use href="#E" transform="rotate(-1.5)scale(.96 1)"/><use href="#E" transform="rotate(2.5)scale(.93 .95)"/><use href="#E" transform="rotate(-2.5)scale(1 1.04)"/><use href="#E" transform="rotate(.8)scale(.9 .9)"/><use href="#E" transform="rotate(-.8)scale(.86 .9)"/><use href="#E" transform="rotate(1.2)scale(1.03 .98)"/><use href="#E" transform="rotate(-1.2)scale(.95 .93)"/><use href="#E" transform="rotate(0)scale(.92 .97)"/><use href="#E" transform="rotate(1.9)scale(.98 1.02)"/><use href="#E" transform="rotate(-2.9)scale(.89 .95)"/>
<use href="#F" transform="rotate(0)scale(1 1)"/><use href="#F" transform="rotate(1)scale(.97 .97)"/><use href="#F" transform="rotate(-1)scale(.95 .96)"/><use href="#F" transform="rotate(2)scale(.92 .93)"/><use href="#F" transform="rotate(-2)scale(.9 .92)"/><use href="#F" transform="rotate(.5)scale(.88 .9)"/><use href="#F" transform="rotate(-.5)scale(.86 .88)"/><use href="#F" transform="rotate(1.5)scale(1.02 1.01)"/><use href="#F" transform="rotate(-1.5)scale(.98 .95)"/><use href="#F" transform="rotate(2.5)scale(.94 .91)"/><use href="#F" transform="rotate(-2.5)scale(.9 .89)"/><use href="#F" transform="rotate(.8)scale(.87 .86)"/><use href="#F" transform="rotate(-.8)scale(.99 .98)"/><use href="#F" transform="rotate(1.2)scale(.93 .95)"/><use href="#F" transform="rotate(-3)scale(.96 .93)"/><use href="#F" transform="rotate(3)scale(.91 .9)"/>
<use href="#G" transform="rotate(0)scale(1 1)"/><use href="#G" transform="rotate(1)scale(.96 .97)"/><use href="#G" transform="rotate(-1)scale(.93 .95)"/><use href="#G" transform="rotate(2)scale(.9 .92)"/><use href="#G" transform="rotate(-2)scale(.97 .94)"/><use href="#G" transform="rotate(.5)scale(.88 .9)"/><use href="#G" transform="rotate(-.5)scale(.94 .91)"/><use href="#G" transform="rotate(1.5)scale(.91 .96)"/><use href="#G" transform="rotate(-1.5)scale(.86 .89)"/><use href="#G" transform="rotate(2.5)scale(.99 .98)"/><use href="#G" transform="rotate(-2.5)scale(.92 .88)"/><use href="#G" transform="rotate(.8)scale(.95 .99)"/>
<use href="#H" transform="rotate(0)scale(1 1)"/><use href="#H" transform="rotate(1)scale(1.03 1.02)"/><use href="#H" transform="rotate(-1)scale(.97 .98)"/><use href="#H" transform="rotate(2)scale(1.06 1.05)"/><use href="#H" transform="rotate(-2)scale(.94 .96)"/><use href="#H" transform="rotate(.5)scale(1.09 1.08)"/><use href="#H" transform="rotate(-.5)scale(1.12 1.1)"/><use href="#H" transform="rotate(1.5)scale(1 1.04)"/><use href="#H" transform="rotate(-1.5)scale(1.05 1)"/><use href="#H" transform="rotate(2.5)scale(.96 1.02)"/><use href="#H" transform="rotate(-2.5)scale(1.1 1.06)"/><use href="#H" transform="rotate(.8)scale(1.14 1.12)"/><use href="#H" transform="rotate(-.8)scale(1.02 1.08)"/><use href="#H" transform="rotate(3)scale(1.07 1.1)"/>
<use href="#K" transform="rotate(0)scale(1 1)"/><use href="#K" transform="rotate(1)scale(1.04 1.04)"/><use href="#K" transform="rotate(-1)scale(.96 .97)"/><use href="#K" transform="rotate(2)scale(1.08 1.06)"/><use href="#K" transform="rotate(-2)scale(.92 .94)"/><use href="#K" transform="rotate(.5)scale(1.1 1.09)"/><use href="#K" transform="rotate(-.5)scale(.88 .9)"/><use href="#K" transform="rotate(1.5)scale(1.02 1.07)"/><use href="#K" transform="rotate(-1.5)scale(1.06 1.02)"/><use href="#K" transform="rotate(3)scale(.98 1)"/>
</g>
<use href="#c0" transform="rotate(.7)scale(.985 .99)"/>
<use href="#c0" transform="rotate(-.6)scale(1.005 .985)"/>
</g>
<g id="label-p0" fill="#9e0142"><text x="366" y="424" font-size="142" font-style="italic">p</text><text x="457" y="447" font-size="100">0</text></g>
<g id="label-p1" fill="#5e4fa2"><text x="1934" y="423" font-size="142" font-style="italic">p</text><text x="2026" y="445" font-size="100">1</text></g>
</svg>
